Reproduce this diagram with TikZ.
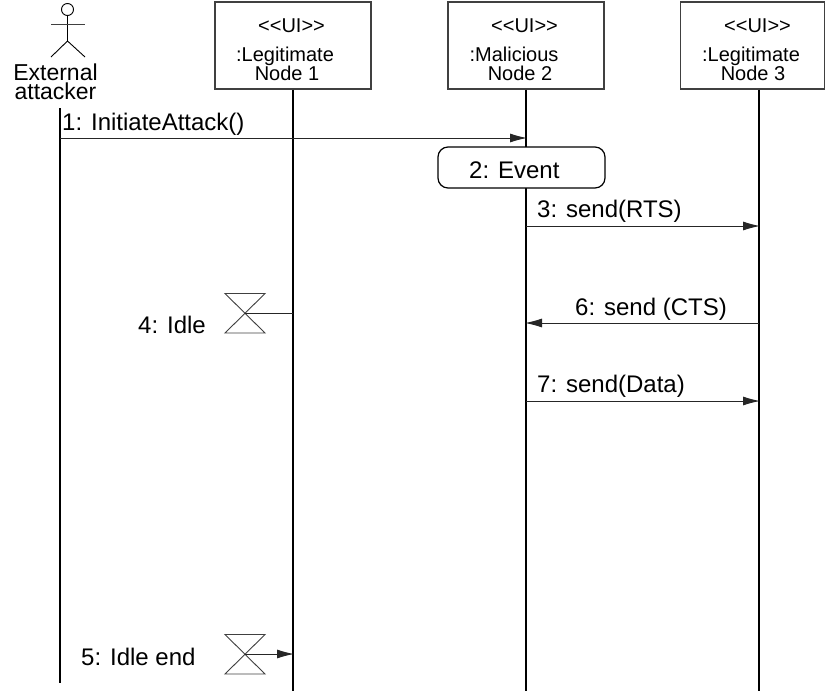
\documentclass[tikz,border=0pt]{standalone}
\usepackage{fontspec}
\setmainfont{Liberation Sans}
\usetikzlibrary{arrows.meta,positioning}

\begin{document}
\begin{tikzpicture}[x=1pt, y=-1pt,
        lifebox/.style={draw=black!75, line width=1.2pt, fill=white, minimum height=87pt, inner sep=0pt},
        lifeline/.style={line width=1.6pt},
        msg/.style={line width=0.9pt, draw=black!85, shorten >=-1pt, -{Latex[length=17pt,width=9pt]}},
        plainmsg/.style={line width=0.9pt, draw=black!85},
        namelabel/.style={font=\fontsize{20}{19}\selectfont, inner sep=0pt, anchor=base},
        actorlabel/.style={font=\fontsize{23}{19}\selectfont, inner sep=0pt, align=center},
        msglabel/.style={font=\fontsize{24}{24}\selectfont, inner sep=0pt, anchor=base west},
        eventbox/.style={draw, line width=1.2pt, fill=white, rounded corners=10pt, minimum width=167pt, minimum height=41pt, inner sep=0pt},
        idlemark/.style={draw=black!75, line width=0.9pt}]
        \useasboundingbox (0,0) rectangle (825,691);

        % actor
        \node[draw, circle, line width=0.9pt, minimum size=12pt, inner sep=0pt] (head) at (67.5,9.5) {};
        \coordinate (arml) at (51,24);
        \coordinate (armr) at (85,24);
        \coordinate (hip) at (67.5,41);
        \coordinate (legl) at (51,57);
        \coordinate (legr) at (85,57);
        \draw[line width=0.9pt] (head) -- (hip);
        \draw[line width=0.9pt, draw=black!75] (arml) -- (armr);
        \draw[line width=0.9pt] (legl) -- (hip) -- (legr);
        \node[actorlabel] (ext) at (55.5,82) {External\\attacker};

        % lifelines
        \coordinate (top0) at (60,108);
        \coordinate (end0) at (60,683);
        \coordinate (end1) at (293,691);
        \coordinate (end2) at (526,691);
        \coordinate (end3) at (759,691);
        \node[lifebox, minimum width=156pt] (node1) at (293,45.5) {};
        \node[lifebox, minimum width=156pt] (node2) at (526,45.5) {};
        \node[lifebox, minimum width=144pt] (node3) at (752.8,45.5) {};
        \draw[lifeline] (top0) -- (end0);
        \draw[lifeline] (node1.south) -- (end1);
        \draw[lifeline] (node2.south) -- (end2);
        \draw[lifeline] (node3.south -| end3) -- (end3);

        \node[namelabel] (ui1) at (291.5,32) {<{}<{}UI>{}>};
        \node[namelabel] (ui2) at (524.5,32) {<{}<{}UI>{}>};
        \node[namelabel] (ui3) at (757.5,32) {<{}<{}UI>{}>};
        \node[namelabel] (name1a) at (285,61) {:Legitimate};
        \node[namelabel] (name1b) at (287,80) {Node 1};
        \node[namelabel] (name2a) at (514,61) {:Malicious};
        \node[namelabel] (name2b) at (520,80) {Node 2};
        \node[namelabel] (name3a) at (751,61) {:Legitimate};
        \node[namelabel] (name3b) at (753,80) {Node 3};

        % messages
        \coordinate (a1) at (60,138);
        \coordinate (b1) at (526,138);
        \coordinate (a3) at (526,226);
        \coordinate (b3) at (759,226);
        \coordinate (a6) at (759,323);
        \coordinate (b6) at (526,323);
        \coordinate (a7) at (526,401);
        \coordinate (b7) at (759,401);
        \draw[msg] (a1) -- (b1);
        \draw[msg] (a3) -- (b3);
        \draw[msg] (a6) -- (b6);
        \draw[msg] (a7) -- (b7);
        \node[msglabel] (lab1) at (62,130) {1: InitiateAttack()};
        \node[msglabel] (lab3) at (537,217) {3: send(RTS)};
        \node[msglabel] (lab6) at (575,315) {6: send (CTS)};
        \node[msglabel] (lab7) at (537,392) {7: send(Data)};

        \node[eventbox] (event) at (521.5,167.5) {};
        \node[msglabel] (lab2) at (469,178) {2: Event};

        % idle marks
        \coordinate (idle4) at (245,313);
        \coordinate (life4) at (293,313);
        \coordinate (idle5) at (245,654);
        \coordinate (life5) at (293,654);
        \draw[idlemark] (225,293.5) -- (265,293.5) -- (225,333) -- (265,333) -- cycle;
        \draw[idlemark] (225,634.5) -- (265,634.5) -- (225,674) -- (265,674) -- cycle;
        \draw[plainmsg] (idle4) -- (life4);
        \draw[msg] (idle5) -- (life5);
        \node[msglabel] (lab4) at (138,333) {4: Idle};
        \node[msglabel] (lab5) at (81,665) {5: Idle end};
    \end{tikzpicture}
\end{document}
